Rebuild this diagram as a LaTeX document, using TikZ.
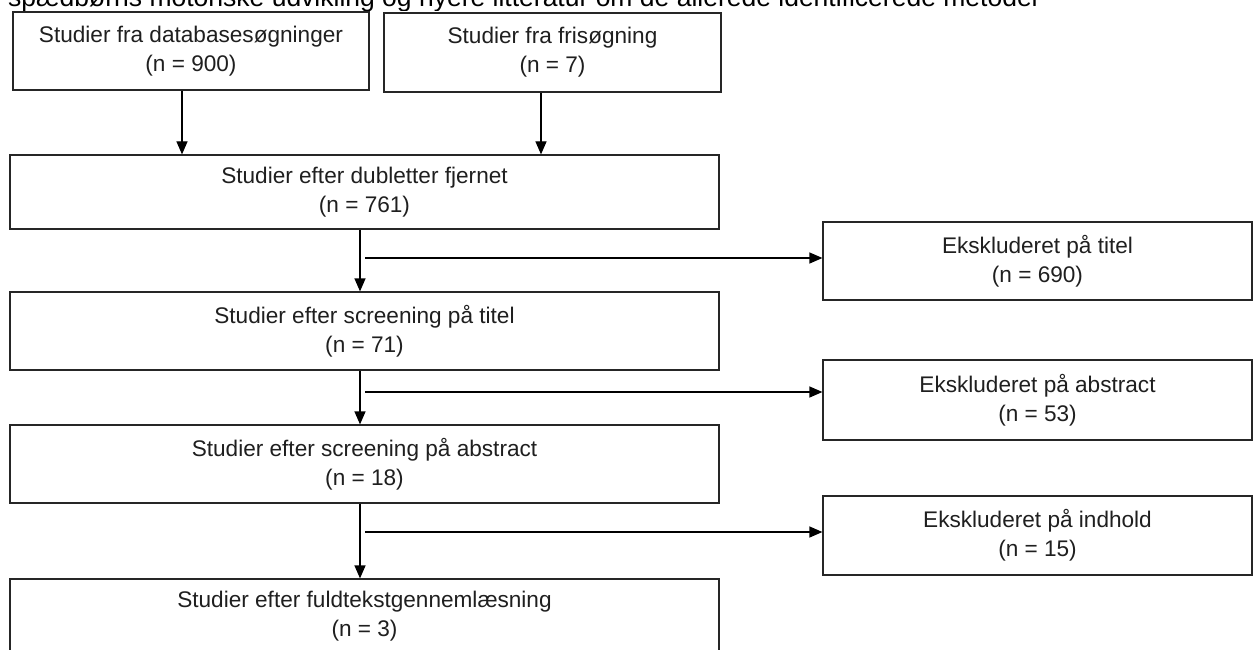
\documentclass[tikz,border=0pt]{standalone}
\usepackage{fontspec}
\setmainfont{Liberation Sans}
\usetikzlibrary{arrows.meta}
\newcommand{\boxfont}{\fontsize{22.6}{29}\selectfont}
\newcommand{\topfont}{\fontsize{26.5}{30}\selectfont}
\tikzset{
  box/.style={draw=black!85, line width=1.2pt, inner sep=0pt, align=center,
    font=\boxfont, text=black!88, rectangle},
  arr/.style={draw=black, line width=1.2pt, -{Triangle[length=13pt,width=11pt]}},
}
\begin{document}
\begin{tikzpicture}[x=1pt,y=-1pt]
\useasboundingbox (0,0) rectangle (1253,650);
\clip (0,0) rectangle (1253,650);
\fill[white] (0,0) rectangle (1253,650);
% cut-off heading line
\begin{scope}
\clip (0,0) rectangle (1253,11);
\node[anchor=base west, inner sep=0pt, font=\topfont, text=black] (head) at (8,6.5)
  {spædbørns motoriske udvikling og nyere litteratur om de allerede identificerede metoder};
\end{scope}
% boxes
\node[box, minimum width=356pt, minimum height=78pt] (A) at (191,51)
  {Studier fra databasesøgninger\\(n = 900)};
\node[box, minimum width=337pt, minimum height=79pt] (B) at (552.5,52.5)
  {Studier fra frisøgning\\(n = 7)};
\node[box, minimum width=709pt, minimum height=74pt] (C) at (364.5,192)
  {Studier efter dubletter fjernet\\(n = 761)};
\node[box, minimum width=429pt, minimum height=78pt] (X1) at (1037.5,261)
  {Ekskluderet på titel\\(n = 690)};
\node[box, minimum width=709pt, minimum height=78pt] (D) at (364.5,331)
  {Studier efter screening på titel\\(n = 71)};
\node[box, minimum width=429pt, minimum height=80pt] (X2) at (1037.5,400)
  {Ekskluderet på abstract\\(n = 53)};
\node[box, minimum width=709pt, minimum height=78pt] (E) at (364.5,464)
  {Studier efter screening på abstract\\(n = 18)};
\node[box, minimum width=429pt, minimum height=79pt] (X3) at (1037.5,535.5)
  {Ekskluderet på indhold\\(n = 15)};
\node[box, minimum width=709pt, minimum height=74pt] (F) at (364.5,616)
  {Studier efter fuldtekstgennemlæsning\\(n = 3)};
% connector helper coordinates
\coordinate (va) at (182,0);
\coordinate (vb) at (541,0);
\coordinate (vm) at (360,0);
\coordinate (h1) at (365,258);
\coordinate (h2) at (365,392);
\coordinate (h3) at (365,532);
% connectors
\draw[arr] (A.south -| va) -- (C.north -| va);
\draw[arr] (B.south -| vb) -- (C.north -| vb);
\draw[arr] (C.south -| vm) -- (D.north -| vm);
\draw[arr] (D.south -| vm) -- (E.north -| vm);
\draw[arr] (E.south -| vm) -- (F.north -| vm);
\draw[arr] (h1) -- (h1 -| X1.west);
\draw[arr] (h2) -- (h2 -| X2.west);
\draw[arr] (h3) -- (h3 -| X3.west);
\end{tikzpicture}
\end{document}
